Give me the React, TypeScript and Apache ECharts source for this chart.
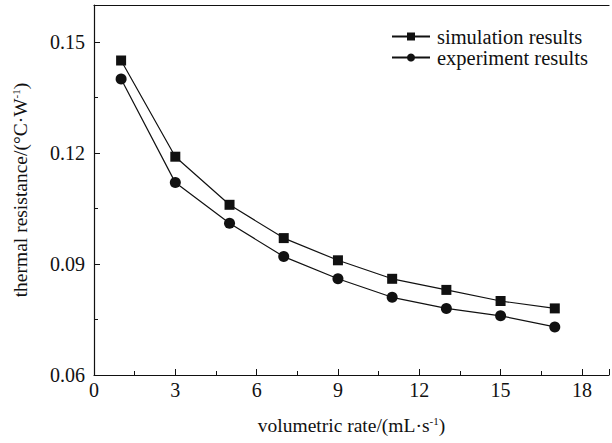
import React, { useEffect, useRef } from "react";
import * as echarts from "echarts";

const xValues = [1, 3, 5, 7, 9, 11, 13, 15, 17];
const simulation = [0.145, 0.119, 0.106, 0.097, 0.091, 0.086, 0.083, 0.08, 0.078];
const experiment = [0.14, 0.112, 0.101, 0.092, 0.086, 0.081, 0.078, 0.076, 0.073];
const xTickLabels = ["0", "3", "6", "9", "12", "15", "18"];
const yTickLabels = ["0.06", "0.09", "0.12", "0.15"];

const FONT = "'Liberation Serif', 'Times New Roman', serif";

export default function App() {
  const ref = useRef<HTMLDivElement>(null);
  useEffect(() => {
    if (!ref.current) return;
    const chart = echarts.init(ref.current, null, { renderer: "svg" });
    const pair = (ys: number[]) => xValues.map((x, i) => [x, ys[i]]);
    const sup = { fontSize: 11, verticalAlign: "top", padding: [0, 0, 8, 0], fontFamily: FONT, color: "#111" };
    chart.setOption({
      animation: false,
      backgroundColor: "#fff",
      grid: { left: 94, top: 5, right: -5, bottom: 68 },
      legend: {
        orient: "vertical",
        left: 386,
        top: 21,
        itemWidth: 38,
        itemHeight: 10,
        itemGap: 0,
        textStyle: { fontFamily: FONT, fontSize: 20.5, lineHeight: 19, color: "#111", padding: [0, 0, 0, 2] },
        data: ["simulation results", "experiment results"],
      },
      xAxis: [
        {
          type: "value",
          min: 0,
          max: 19,
          interval: 3,
          name: "volumetric rate/(mL·s{sup|-1})",
          nameLocation: "middle",
          nameGap: 40,
          nameTextStyle: { fontFamily: FONT, fontSize: 19.5, color: "#111", rich: { sup } },
          axisLine: { lineStyle: { color: "#111", width: 1.2 } },
          axisTick: { inside: true, length: 6, lineStyle: { color: "#111" } },
          minorTick: { show: true, splitNumber: 2, length: 4, lineStyle: { color: "#111" } },
          splitLine: { show: false },
          axisLabel: {
            fontFamily: FONT,
            fontSize: 20,
            color: "#111",
            margin: 5,
            formatter: (v: number) => {
              const s = String(Math.round(v));
              return Math.abs(v - Math.round(v)) < 1e-6 && xTickLabels.includes(s) ? s : "";
            },
          },
        },
        {
          type: "value",
          position: "top",
          min: 0,
          max: 19,
          axisLine: { show: true, lineStyle: { color: "#111", width: 1.2 } },
          axisTick: { show: false },
          axisLabel: { show: false },
          splitLine: { show: false },
        },
      ],
      yAxis: {
        type: "value",
        min: 0.06,
        max: 0.16,
        interval: 0.03,
        name: "thermal resistance/(°C·W{sup|-1})",
        nameLocation: "middle",
        nameGap: 64,
        nameTextStyle: { fontFamily: FONT, fontSize: 19.5, color: "#111", rich: { sup } },
        axisLine: { show: true, lineStyle: { color: "#111", width: 1.2 } },
        axisTick: { inside: true, length: 6, lineStyle: { color: "#111" } },
        minorTick: { show: true, splitNumber: 2, length: 4, lineStyle: { color: "#111" } },
        splitLine: { show: false },
        axisLabel: {
          fontFamily: FONT,
          fontSize: 20,
          color: "#111",
          margin: 9,
          formatter: (v: number) => {
            const s = v.toFixed(2);
            return yTickLabels.includes(s) && Math.abs(v - Number(s)) < 1e-6 ? s : "";
          },
        },
      },
      series: [
        {
          name: "simulation results",
          type: "line",
          data: pair(simulation),
          symbol: "rect",
          symbolSize: 10,
          lineStyle: { color: "#111", width: 1.2 },
          itemStyle: { color: "#111" },
        },
        {
          name: "experiment results",
          type: "line",
          data: pair(experiment),
          symbol: "circle",
          symbolSize: 11,
          lineStyle: { color: "#111", width: 1.2 },
          itemStyle: { color: "#111" },
        },
      ],
    });
    return () => chart.dispose();
  }, []);
  return <div ref={ref} style={{ width: 612, height: 443, position: "fixed", left: 0, top: 0 }} />;
}
